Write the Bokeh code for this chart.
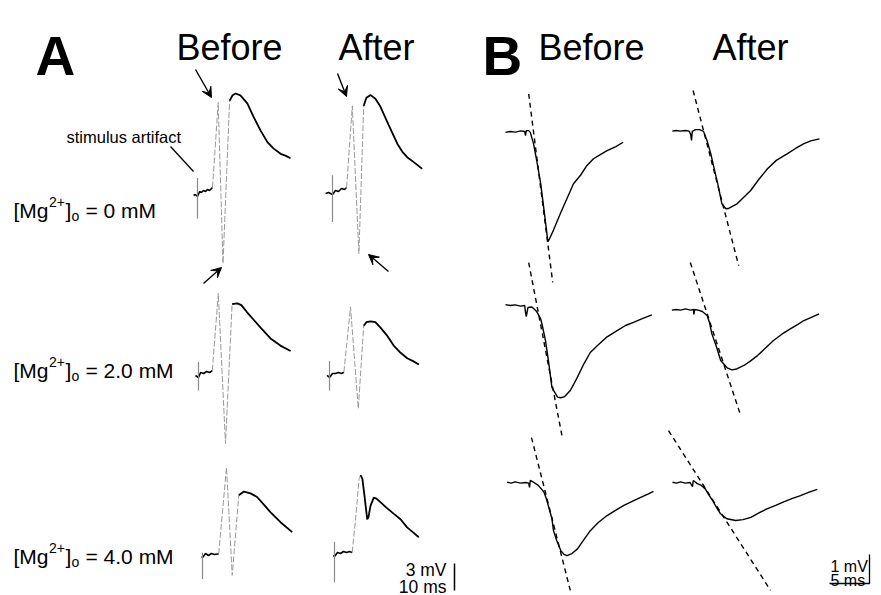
import numpy as np
from bokeh.plotting import figure
from bokeh.models import Range1d, Arrow, VeeHead, Label
from bokeh.embed import file_html
from bokeh.resources import INLINE

# ---------------- DATA (time in ms from stimulus, voltage in mV from baseline) ----------------
conditions = ["[Mg", "2+", "]", "o"]
mg_values = ["= 0 mM", "= 2.0 mM", "= 4.0 mM"]
col_titles = ["Before", "After"]
panel_letters = ["A", "B"]
scale_A = ["3 mV", "10 ms"]
scale_B = ["1 mV", "5 ms"]
scale_A_mv = 3
scale_B_mv = 1
scale_B_ms = 5

# Panel A: field potentials (fast segment index range given separately)
A1B_t = [-1.3, -0.7, 0, 0.7, 1.3, 2.0, 2.7, 3.3, 4.0, 5.0, 6.9, 8.5, 10.7, 11.7, 12.7, 14.3, 16.6, 18.7, 21.0, 23.3, 25.3, 27.7, 29.3, 31.0]
A1B_v = [-0.33, -0.22, -0.44, 0.11, 0, 0.22, 0.11, 0.33, 0.22, 0.56, 10.0, -7.9, 10.2, 10.8, 11.0, 10.8, 9.9, 8.4, 6.9, 5.6, 4.9, 4.3, 4.1, 3.8]
A1A_t = [-2.3, -1.3, 0, 1.0, 2.0, 3.0, 4.0, 4.7, 6.6, 8.8, 10.4, 11.3, 12.7, 14.3, 16.0, 18.7, 21.6, 23.3, 24.9, 27.3, 29.9]
A1A_v = [-0.33, -0.22, -0.44, 0, -0.11, 0.22, 0.11, 0.33, 9.4, -7.0, 9.4, 10.3, 10.6, 10.2, 9.3, 7.3, 5.2, 4.3, 3.7, 3.1, 2.4]
A2B_t = [-1.0, 0, 0.7, 1.7, 2.7, 3.7, 4.6, 6.6, 9.0, 11.2, 12.9, 14.3, 16.2, 18.3, 20.7, 24.0, 27.3, 30.7]
A2B_v = [-0.22, -0.44, 0.11, 0, 0.22, 0.11, 0.33, 8.9, -7.8, 7.7, 7.8, 7.6, 6.8, 6.0, 5.1, 3.9, 3.1, 2.5]
A2A_t = [-0.8, 0, 1.0, 2.0, 3.0, 4.0, 4.8, 7.0, 9.6, 11.4, 12.3, 13.7, 15.3, 17.0, 19.0, 21.4, 23.7, 25.9, 27.7, 29.8]
A2A_v = [-0.22, -0.44, 0, 0, 0.11, 0, 0.14, 7.4, -3.9, 5.3, 5.7, 5.8, 5.7, 5.1, 4.3, 3.1, 2.3, 1.7, 1.4, 1.0]
A3B_t = [-0.3, 0, 1.0, 2.0, 3.0, 4.0, 5.4, 8.0, 9.9, 12.1, 13.8, 16.0, 18.2, 20.3, 22.7, 26.0, 29.9]
A3B_v = [-0.11, -0.22, 0.22, 0, 0.22, 0.11, 0.19, 9.8, -2.2, 6.7, 7.1, 6.9, 6.5, 5.7, 4.8, 3.7, 2.6]
A3A_t = [-0.4, 0, 1.0, 2.0, 3.0, 4.0, 5.0, 5.9, 7.0, 8.2, 8.7, 9.3, 10.0, 10.9, 11.3, 12.0, 13.1, 14.0, 15.3, 17.3, 19.8, 22.0, 24.2, 26.0, 28.1]
A3A_v = [-0.22, -0.33, 0.11, 0, 0.22, 0.11, 0.22, 0.11, 3.7, 8.3, 8.7, 8.3, 6.4, 3.8, 4.0, 5.3, 6.2, 6.1, 5.7, 5.1, 4.4, 3.8, 2.9, 2.4, 1.8]
A_fast_start = [9, 7, 6, 6, 6, 7]
A_fast_end = [12, 10, 9, 9, 9, 10]
A_artifact_top = [1.6, 1.7, 1.3, 1.4, 0.3, 1.3]
A_artifact_bottom = [-2.9, -3.5, -1.9, -1.9, -2.6, -3.2]

# Panel B: field EPSPs with dashed slope lines
B1B_t = [-2.5, -1.9, -1.25, -0.6, -0.1, 0, 0.1, 0.4, 0.6, 1.0, 1.4, 1.9, 2.4, 2.8, 3.0, 3.5, 4.4, 5.2, 6.0, 6.9, 7.6, 8.5, 9.4, 10.2, 11.3, 12.2]
B1B_v = [-0.03, 0, -0.02, 0.02, 0, -0.14, 0.03, 0.03, -0.03, -0.42, -1.0, -1.8, -2.9, -3.8, -3.7, -3.4, -2.8, -2.3, -1.8, -1.5, -1.2, -0.94, -0.79, -0.66, -0.52, -0.37]
B1A_t = [-2.4, -1.9, -1.4, -0.8, -0.3, -0.1, 0, 0.1, 0.5, 1.0, 1.5, 2.0, 2.4, 2.8, 3.3, 3.8, 4.3, 4.6, 5.1, 5.7, 6.5, 7.4, 8.4, 9.5, 10.6, 12.0, 13.0, 14.0, 14.9, 16.0]
B1A_v = [-0.02, 0, -0.02, 0, -0.02, -0.14, -0.34, -0.03, 0.03, 0.03, -0.03, -0.40, -0.79, -1.27, -1.86, -2.53, -2.70, -2.69, -2.62, -2.53, -2.31, -2.07, -1.69, -1.32, -1.03, -0.80, -0.62, -0.46, -0.36, -0.29]
B2B_t = [-2.5, -1.9, -1.3, -0.6, -0.1, 0, 0.1, 0.3, 0.8, 1.4, 1.9, 2.1, 2.5, 2.9, 3.3, 4.0, 4.4, 4.9, 5.6, 6.4, 7.3, 8.1, 9.0, 10.1, 11.5, 12.5, 13.5, 14.6, 15.8]
B2B_v = [0.03, 0, 0.02, -0.02, 0, -0.24, -0.38, -0.07, -0.05, -0.21, -0.46, -0.69, -1.21, -1.97, -2.82, -3.16, -3.18, -3.14, -2.93, -2.52, -2.01, -1.62, -1.38, -1.10, -0.86, -0.69, -0.58, -0.45, -0.32]
B2A_t = [-2.7, -2.1, -1.6, -1.0, -0.4, 0, 0.05, 0.15, 0.7, 1.1, 1.7, 2.0, 2.3, 2.9, 3.4, 4.2, 4.8, 5.4, 6.3, 7.1, 8.0, 9.0, 10.0, 11.0, 12.1, 13.0, 13.8, 14.8, 15.7]
B2A_v = [-0.02, 0, -0.02, 0.02, -0.02, 0, -0.17, 0, -0.03, -0.07, -0.21, -0.45, -0.84, -1.31, -1.76, -2.01, -2.08, -2.05, -1.93, -1.78, -1.59, -1.33, -1.07, -0.86, -0.67, -0.52, -0.38, -0.26, -0.15]
B3B_t = [-2.8, -2.3, -1.8, -1.1, -0.5, -0.1, 0, 0.1, 0.5, 1.1, 1.8, 2.1, 2.4, 2.8, 3.0, 3.4, 3.9, 4.3, 4.7, 5.3, 6.0, 6.8, 7.6, 8.6, 9.7, 10.8, 11.8, 12.9, 13.9, 14.8, 15.5]
B3B_v = [0.01, -0.02, 0.02, -0.02, 0, -0.02, -0.17, 0.07, 0.01, -0.10, -0.33, -0.55, -0.85, -1.24, -1.66, -2.0, -2.34, -2.48, -2.52, -2.45, -2.29, -1.97, -1.66, -1.38, -1.14, -0.95, -0.79, -0.64, -0.51, -0.40, -0.31]
B3A_t = [-2.5, -2.0, -1.5, -0.9, -0.3, 0, 0.1, 0.6, 1.1, 1.6, 2.0, 2.5, 3.0, 3.5, 4.3, 5.4, 6.3, 7.3, 8.3, 9.3, 10.4, 11.4, 12.5, 13.5, 14.5, 15.6]
B3A_v = [0.01, -0.02, 0.02, -0.02, 0, -0.14, 0.07, -0.04, -0.10, -0.22, -0.41, -0.62, -0.86, -1.08, -1.25, -1.31, -1.28, -1.20, -1.05, -0.91, -0.79, -0.67, -0.55, -0.45, -0.34, -0.24]
B_slope_t0 = [0.4, 0.2, 0.4, -0.4, 0.25, -3.0]
B_slope_v0 = [1.3, 1.38, 1.48, 1.62, 1.55, 1.79]
B_slope_t1 = [3.4, 5.9, 4.6, 5.9, 5.1, 9.75]
B_slope_v1 = [-5.2, -4.66, -4.55, -3.66, -3.72, -3.72]

# ---------------- LAYOUT (page pixels) ----------------
A_px_ms, A_px_mv = 3.0, 9.0
B_px_ms, B_px_mv = 8.0, 29.0
A_origin_x = [197, 332, 198, 329, 202, 334]
A_origin_y = [192, 190, 373, 373, 555, 553]
B_origin_x = [525, 691, 525, 693, 529, 692]
B_origin_y = [131, 130, 305, 309, 482, 482]

FONT = "Liberation Sans"

p = figure(width=881, height=595, x_range=Range1d(0, 881), y_range=Range1d(595, 0),
           output_backend="svg", toolbar_location=None, min_border=0)
p.xaxis.visible = False
p.yaxis.visible = False
p.grid.visible = False
p.outline_line_color = None
p.background_fill_color = "white"
p.border_fill_color = "white"

A_traces = [(A1B_t, A1B_v), (A1A_t, A1A_v), (A2B_t, A2B_v), (A2A_t, A2A_v), (A3B_t, A3B_v), (A3A_t, A3A_v)]
for i, (t, v) in enumerate(A_traces):
    x = A_origin_x[i] + np.array(t) * A_px_ms
    y = A_origin_y[i] - np.array(v) * A_px_mv
    s, e = A_fast_start[i], A_fast_end[i]
    p.line(x[:s + 1], y[:s + 1], line_color="black", line_width=1.6)
    p.line(x[s:e + 1], y[s:e + 1], line_color="#999999", line_width=1.0, line_dash="6 2")
    p.line(x[e:], y[e:], line_color="black", line_width=1.8)
    p.line([A_origin_x[i], A_origin_x[i]],
           [A_origin_y[i] - A_artifact_top[i] * A_px_mv, A_origin_y[i] - A_artifact_bottom[i] * A_px_mv],
           line_color="#8a8a8a", line_width=1.2)

B_traces = [(B1B_t, B1B_v), (B1A_t, B1A_v), (B2B_t, B2B_v), (B2A_t, B2A_v), (B3B_t, B3B_v), (B3A_t, B3A_v)]
for i, (t, v) in enumerate(B_traces):
    x = B_origin_x[i] + np.array(t) * B_px_ms
    y = B_origin_y[i] - np.array(v) * B_px_mv
    p.line(x, y, line_color="black", line_width=1.4)
    sx = B_origin_x[i] + np.array([B_slope_t0[i], B_slope_t1[i]]) * B_px_ms
    sy = B_origin_y[i] - np.array([B_slope_v0[i], B_slope_v1[i]]) * B_px_mv
    p.line(sx, sy, line_color="black", line_width=1.4, line_dash="5 4")

# arrows
arrow_specs = [(195, 69, 211, 97), (203, 283, 221, 267), (337, 73, 346, 96), (388, 271, 368, 254)]
for xs, ys, xe, ye in arrow_specs:
    p.add_layout(Arrow(end=VeeHead(size=10, fill_color="black", line_color="black", line_width=1),
                       x_start=xs, y_start=ys, x_end=xe, y_end=ye, line_width=1.4, line_color="black"))
p.line([170, 193], [146, 171], line_color="black", line_width=1.3)

def lab(x, y, text, size, align="left", bold=False, baseline="alphabetic"):
    p.add_layout(Label(x=x, y=y, text=text, text_font=FONT, text_font_size=f"{size}px",
                       text_align=align, text_baseline=baseline, text_color="black",
                       text_font_style="bold" if bold else "normal"))

lab(35, 55, panel_letters[0], 55, bold=True)
lab(482, 55, panel_letters[1], 55, bold=True)
lab(176, 47, col_titles[0], 36)
lab(338, 47, col_titles[1], 36)
lab(538, 47, col_titles[0], 36)
lab(712, 47, col_titles[1], 36)
lab(66, 136, "stimulus artifact", 16.5)

row_baselines = [210, 370, 556]
for r, yb in enumerate(row_baselines):
    x0 = 13
    lab(x0, yb, conditions[0], 21)
    lab(x0 + 35.5, yb - 9, conditions[1], 14)
    lab(x0 + 52, yb, conditions[2], 21)
    lab(x0 + 58, yb + 5, conditions[3], 14)
    lab(x0 + 72, yb, mg_values[r], 21)

# scale bars
p.line([454, 454], [590, 590 - scale_A_mv * A_px_mv], line_color="black", line_width=1.5)
lab(446, 569, scale_A[0], 17.5, align="right")
lab(446, 586, scale_A[1], 17.5, align="right")
p.line([869 - scale_B_ms * B_px_ms, 869, 869], [583, 583, 583 - scale_B_mv * B_px_mv],
       line_color="black", line_width=1.3)
lab(830, 566, scale_B[0], 16)
lab(830, 580, scale_B[1], 16)

open("out.html", "w").write(file_html(p, INLINE))
